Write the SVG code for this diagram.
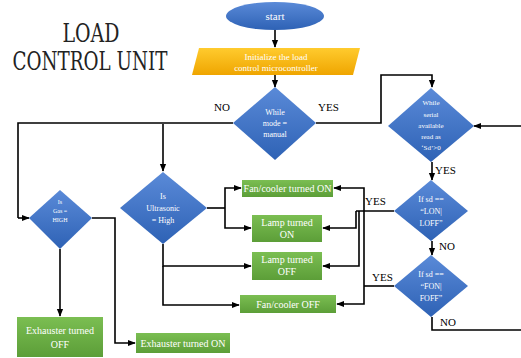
<svg xmlns="http://www.w3.org/2000/svg" width="521" height="358" viewBox="0 0 521 358">
<defs>
<linearGradient id="gb" x1="0" y1="0" x2="0" y2="1"><stop offset="0" stop-color="#5A8AD8"/><stop offset="1" stop-color="#2E62B5"/></linearGradient>
<linearGradient id="gg" x1="0" y1="0" x2="0" y2="1"><stop offset="0" stop-color="#7BBE52"/><stop offset="1" stop-color="#5C9E38"/></linearGradient>
<linearGradient id="gy" x1="0" y1="0" x2="0" y2="1"><stop offset="0" stop-color="#FFCB2E"/><stop offset="1" stop-color="#EFA500"/></linearGradient>
<marker id="ar" viewBox="0 0 10 10" refX="9" refY="5" markerWidth="5" markerHeight="5" orient="auto"><path d="M0,1 L10,5 L0,9 Z" fill="#000"/></marker>
</defs>
<style>
.c{fill:none;stroke:#000;stroke-width:1.6}
.a{marker-end:url(#ar)}
.d{fill:url(#gb)}
.g{fill:url(#gg)}
.t{fill:#fff;text-anchor:middle}
.l{fill:#000;font-size:11px}
</style>
<rect width="521" height="358" fill="#fff"/>
<g id="title" font-family="DejaVu Serif">
<text x="91" y="42" font-size="26" text-anchor="middle" textLength="57" lengthAdjust="spacingAndGlyphs" fill="#222">LOAD</text>
<text x="90" y="70" font-size="26" text-anchor="middle" textLength="155" lengthAdjust="spacingAndGlyphs" fill="#222">CONTROL UNIT</text>
</g>
<g id="connectors">
<path class="c a" d="M275,30 V47"/>
<path class="c a" d="M275,75 V87"/>
<path class="c" d="M233,123 H18 V218"/>
<path class="c a" d="M18,218 H29"/>
<path class="c a" d="M163,124 V171"/>
<path class="c a" d="M60,249 V316"/>
<path class="c a" d="M92,218 H115 V343 H135"/>
<path class="c" d="M207,208 H225"/>
<path class="c a" d="M225,208 V188 H241"/>
<path class="c a" d="M225,208 V228 H251"/>
<path class="c a" d="M163,244 V266 H251"/>
<path class="c a" d="M163,266 V305 H239"/>
<path class="c a" d="M316,123 H381 V75 H432 V87"/>
<path class="c a" d="M521,126 H474"/>
<path class="c a" d="M432,162 V180"/>
<path class="c a" d="M432,241 V255"/>
<path class="c" d="M432,317 V330 H521"/>
<path class="c" d="M394,211 H356"/>
<path class="c a" d="M356,211 V228 H323"/>
<path class="c a" d="M359,211 V266 H323"/>
<path class="c" d="M394,286 H364"/>
<path class="c a" d="M364,286 V188 H334"/>
<path class="c a" d="M364,286 V304 H337"/>
</g>
<g id="labels" font-family="Liberation Serif">
<text class="l" x="214" y="111">NO</text>
<text class="l" x="318" y="111">YES</text>
<text class="l" x="435" y="174">YES</text>
<text class="l" x="365" y="205">YES</text>
<text class="l" x="439" y="250">NO</text>
<text class="l" x="372" y="281">YES</text>
<text class="l" x="440" y="326">NO</text>
</g>
<g id="start" font-family="Liberation Serif">
<ellipse cx="275" cy="16" rx="49" ry="14" class="d"/>
<text class="t" x="275" y="20" font-size="11">start</text>
</g>
<g id="init" font-family="Liberation Serif">
<path d="M199,48 H360 L353,75 H192 Z" fill="url(#gy)"/>
<text class="t" x="276" y="60" font-size="9">Initialize  the load</text>
<text class="t" x="276" y="71" font-size="9">control microcontroller</text>
</g>
<g id="mode" font-family="Liberation Serif">
<path class="d" d="M275,87 L316,123 L275,160 L233,123 Z"/>
<text class="t" x="275" y="115" font-size="8">While</text>
<text class="t" x="275" y="126" font-size="8">mode =</text>
<text class="t" x="275" y="137" font-size="8">manual</text>
</g>
<g id="serial" font-family="Liberation Serif">
<path class="d" d="M431,88 L474,126 L431,162 L388,126 Z"/>
<text class="t" x="431" y="105" font-size="7">While</text>
<text class="t" x="431" y="117" font-size="7">serial</text>
<text class="t" x="431" y="128" font-size="7">available</text>
<text class="t" x="431" y="139" font-size="7">read as</text>
<text class="t" x="431" y="150" font-size="7">‘Sd’&gt;0</text>
</g>
<g id="lon" font-family="Liberation Serif">
<path class="d" d="M431,180 L468,211 L431,241 L394,211 Z"/>
<text class="t" x="431" y="202" font-size="8">If sd ==</text>
<text class="t" x="431" y="214" font-size="8">“LON|</text>
<text class="t" x="431" y="226" font-size="8">LOFF”</text>
</g>
<g id="fon" font-family="Liberation Serif">
<path class="d" d="M431,255 L468,286 L431,317 L394,286 Z"/>
<text class="t" x="431" y="277" font-size="8">If sd ==</text>
<text class="t" x="431" y="289" font-size="8">“FON|</text>
<text class="t" x="431" y="301" font-size="8">FOFF”</text>
</g>
<g id="ultrasonic" font-family="Liberation Serif">
<path class="d" d="M163,172 L207,208 L163,244 L120,208 Z"/>
<text class="t" x="163" y="199" font-size="8">Is</text>
<text class="t" x="163" y="211" font-size="8">Ultrasonic</text>
<text class="t" x="163" y="223" font-size="8">= High</text>
</g>
<g id="gas" font-family="Liberation Serif">
<path class="d" d="M60,190 L92,218 L60,249 L29,218 Z"/>
<text class="t" x="60" y="204" font-size="6">Is</text>
<text class="t" x="60" y="213" font-size="6">Gas =</text>
<text class="t" x="60" y="222" font-size="6">HIGH</text>
</g>
<g id="fanon" font-family="Liberation Serif">
<rect class="g" x="242" y="180" width="91" height="17"/>
<text class="t" x="287.5" y="192" font-size="10">Fan/cooler turned ON</text>
</g>
<g id="lampon" font-family="Liberation Serif">
<rect class="g" x="252" y="215" width="70" height="27"/>
<text class="t" x="287" y="226" font-size="10">Lamp turned</text>
<text class="t" x="287" y="238" font-size="10">ON</text>
</g>
<g id="lampoff" font-family="Liberation Serif">
<rect class="g" x="252" y="252" width="70" height="28"/>
<text class="t" x="287" y="263" font-size="10">Lamp turned</text>
<text class="t" x="287" y="275" font-size="10">OFF</text>
</g>
<g id="fanoff" font-family="Liberation Serif">
<rect class="g" x="240" y="295" width="96" height="18"/>
<text class="t" x="288" y="308" font-size="10">Fan/cooler OFF</text>
</g>
<g id="exoff" font-family="Liberation Serif">
<rect class="g" x="17" y="317" width="86" height="40"/>
<text class="t" x="60" y="334" font-size="10">Exhauster turned</text>
<text class="t" x="60" y="348" font-size="10">OFF</text>
</g>
<g id="exon" font-family="Liberation Serif">
<rect class="g" x="136" y="333" width="94" height="20"/>
<text class="t" x="183" y="347" font-size="10">Exhauster turned ON</text>
</g>
</svg>
